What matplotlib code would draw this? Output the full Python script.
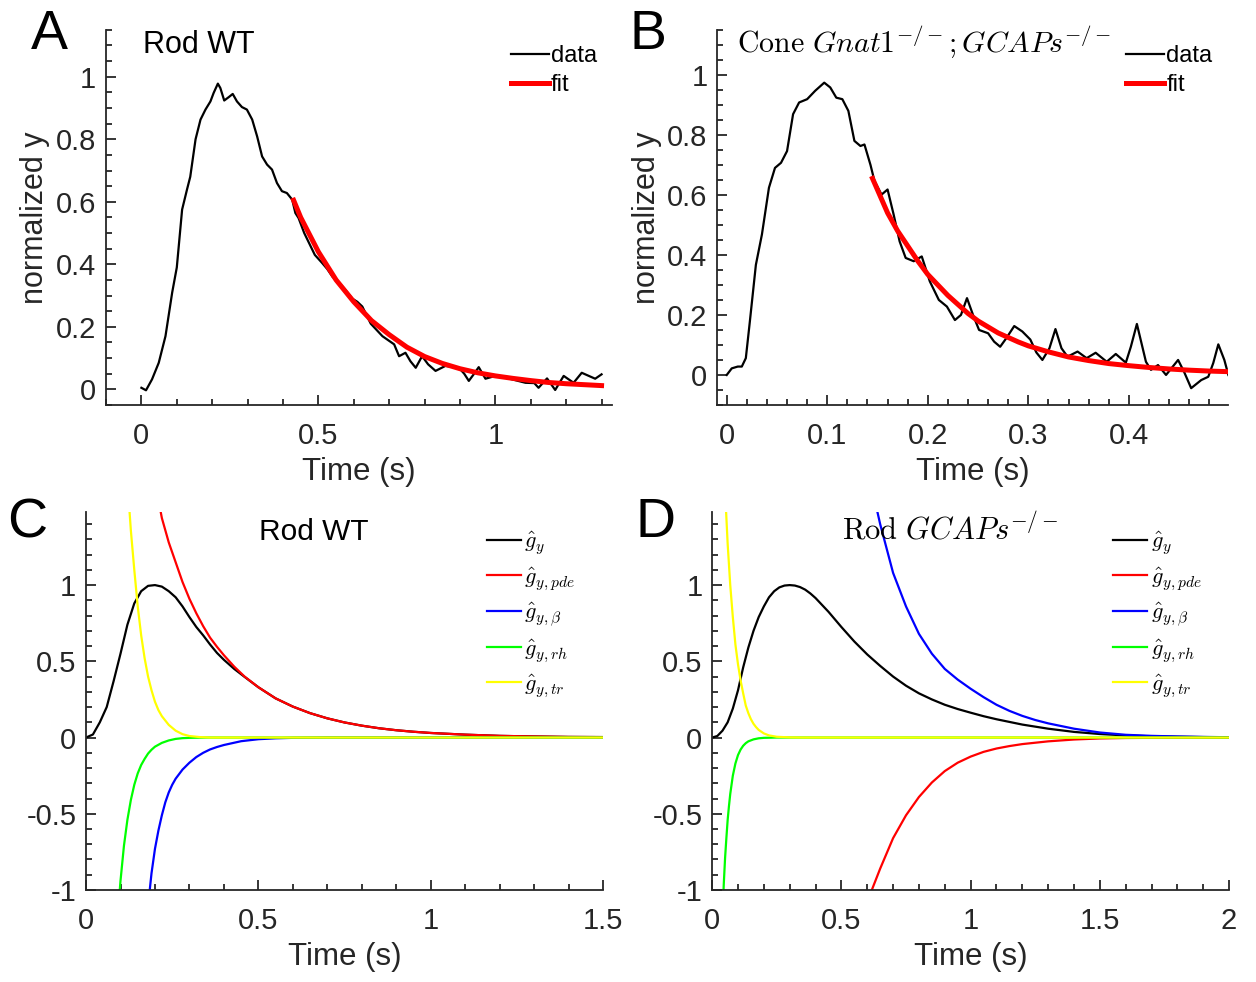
import numpy as np
import matplotlib
matplotlib.use("Agg")
import matplotlib.pyplot as plt
from matplotlib.ticker import MultipleLocator, FuncFormatter

plt.rcParams['font.family'] = ['Liberation Sans', 'DejaVu Sans']
plt.rcParams['mathtext.fontset'] = 'cm'
plt.rcParams['axes.unicode_minus'] = False

AXCOL = '#262626'

# ---- panel A: rod WT response (data + exponential fit) ----
a_t = [0.000, 0.013, 0.030, 0.049, 0.068, 0.087, 0.100, 0.115, 0.129, 0.138, 0.153, 0.167,
       0.181, 0.195, 0.204, 0.216, 0.223, 0.234, 0.247, 0.258, 0.270, 0.284, 0.298, 0.313,
       0.327, 0.341, 0.355, 0.369, 0.383, 0.397, 0.411, 0.426, 0.435, 0.444, 0.460, 0.475,
       0.490, 0.510, 0.525, 0.540, 0.559, 0.575, 0.596, 0.610, 0.624, 0.648, 0.681, 0.714,
       0.728, 0.746, 0.760, 0.775, 0.793, 0.810, 0.831, 0.859, 0.897, 0.912, 0.925, 0.940,
       0.953, 0.972, 1.000, 1.020, 1.047, 1.085, 1.110, 1.122, 1.146, 1.169, 1.193, 1.221,
       1.244, 1.260, 1.282, 1.300]
a_y = [0.005, -0.003, 0.032, 0.085, 0.17, 0.31, 0.39, 0.575, 0.64, 0.68, 0.80, 0.863,
       0.895, 0.921, 0.948, 0.978, 0.964, 0.924, 0.935, 0.945, 0.921, 0.903, 0.895, 0.863,
       0.809, 0.745, 0.719, 0.703, 0.66, 0.634, 0.628, 0.607, 0.564, 0.548, 0.50, 0.465,
       0.43, 0.405, 0.385, 0.36, 0.34, 0.32, 0.29, 0.28, 0.265, 0.21, 0.17, 0.144,
       0.106, 0.117, 0.09, 0.069, 0.106, 0.08, 0.059, 0.075, 0.069, 0.05, 0.027, 0.05,
       0.071, 0.034, 0.043, 0.04, 0.032, 0.021, 0.02, 0.005, 0.035, -0.002, 0.043, 0.021,
       0.053, 0.045, 0.034, 0.048]
a_fit_t = [0.43, 0.45, 0.50, 0.55, 0.60, 0.65, 0.70, 0.75, 0.80, 0.85, 0.90, 0.95,
           1.00, 1.05, 1.10, 1.15, 1.20, 1.25, 1.30]
a_fit_y = [0.605, 0.55, 0.44, 0.35, 0.28, 0.22, 0.175, 0.135, 0.105, 0.083, 0.066, 0.053,
           0.043, 0.035, 0.028, 0.022, 0.018, 0.015, 0.012]

# ---- panel B: cone Gnat1-/-;GCAPs-/- response ----
b_t = [0.000, 0.005, 0.011, 0.015, 0.019, 0.023, 0.029, 0.035, 0.042, 0.048, 0.054, 0.060,
       0.066, 0.072, 0.080, 0.088, 0.097, 0.103, 0.109, 0.115, 0.121, 0.127, 0.133, 0.137,
       0.143, 0.147, 0.154, 0.160, 0.166, 0.172, 0.178, 0.186, 0.194, 0.202, 0.211, 0.219,
       0.227, 0.233, 0.239, 0.245, 0.251, 0.260, 0.266, 0.272, 0.278, 0.286, 0.294, 0.302,
       0.308, 0.314, 0.321, 0.327, 0.333, 0.339, 0.349, 0.358, 0.367, 0.378, 0.387, 0.397,
       0.402, 0.408, 0.417, 0.422, 0.429, 0.437, 0.449, 0.455, 0.462, 0.472, 0.479, 0.484,
       0.489, 0.495, 0.499]
b_y = [0.0, 0.022, 0.028, 0.028, 0.056, 0.178, 0.367, 0.468, 0.624, 0.69, 0.707, 0.746,
       0.869, 0.908, 0.919, 0.947, 0.974, 0.958, 0.924, 0.919, 0.88, 0.78, 0.763, 0.768,
       0.70, 0.646, 0.601, 0.618, 0.535, 0.445, 0.39, 0.379, 0.395, 0.312, 0.25, 0.228,
       0.183, 0.2, 0.256, 0.2, 0.15, 0.139, 0.111, 0.094, 0.122, 0.163, 0.145, 0.118,
       0.075, 0.05, 0.089, 0.153, 0.089, 0.061, 0.078, 0.056, 0.074, 0.044, 0.07, 0.041,
       0.094, 0.17, 0.044, 0.017, 0.033, 0.0, 0.05, 0.01, -0.044, -0.017, -0.006, 0.04,
       0.102, 0.05, 0.0]
b_fit_t = [0.145, 0.16, 0.17, 0.18, 0.19, 0.20, 0.21, 0.22, 0.23, 0.24, 0.25, 0.26, 0.27,
           0.28, 0.29, 0.30, 0.32, 0.34, 0.36, 0.38, 0.40, 0.42, 0.44, 0.46, 0.48, 0.499]
b_fit_y = [0.655, 0.54, 0.48, 0.43, 0.38, 0.335, 0.30, 0.265, 0.235, 0.205, 0.18, 0.16, 0.14,
           0.125, 0.11, 0.097, 0.077, 0.06, 0.048, 0.038, 0.031, 0.025, 0.02, 0.016, 0.013, 0.011]

# ---- panel C: rod WT components ----
c_gy_t = [0.00, 0.02, 0.04, 0.06, 0.08, 0.10, 0.12, 0.14, 0.16, 0.18, 0.20, 0.22, 0.24, 0.26,
          0.28, 0.30, 0.32, 0.34, 0.36, 0.38, 0.40, 0.43, 0.46, 0.50, 0.55, 0.60, 0.65, 0.70,
          0.75, 0.80, 0.85, 0.90, 0.95, 1.00, 1.10, 1.20, 1.30, 1.40, 1.50]
c_gy = [0.00, 0.02, 0.10, 0.20, 0.37, 0.55, 0.74, 0.88, 0.96, 0.995, 1.00, 0.99, 0.96, 0.92,
        0.86, 0.79, 0.725, 0.67, 0.61, 0.555, 0.51, 0.45, 0.398, 0.33, 0.257, 0.203, 0.16, 0.126,
        0.099, 0.078, 0.061, 0.048, 0.038, 0.03, 0.019, 0.011, 0.007, 0.004, 0.003]
c_pde_t = [0.21, 0.22, 0.24, 0.26, 0.28, 0.30, 0.32, 0.34, 0.36, 0.38, 0.40, 0.43, 0.46, 0.50,
           0.55, 0.60, 0.65, 0.70, 0.75, 0.80, 0.85, 0.90, 0.95, 1.00, 1.10, 1.20, 1.30, 1.40, 1.50]
c_pde = [1.56, 1.44, 1.28, 1.15, 1.02, 0.91, 0.815, 0.73, 0.655, 0.595, 0.54, 0.465, 0.40, 0.33,
         0.257, 0.203, 0.16, 0.126, 0.099, 0.078, 0.061, 0.048, 0.038, 0.03, 0.019, 0.011, 0.007,
         0.004, 0.003]
c_beta_t = [0.182, 0.19, 0.20, 0.21, 0.22, 0.23, 0.24, 0.25, 0.26, 0.28, 0.30, 0.32, 0.34, 0.36,
            0.38, 0.40, 0.45, 0.50, 0.55, 0.60, 0.70, 1.50]
c_beta = [-1.06, -0.89, -0.73, -0.61, -0.51, -0.425, -0.36, -0.31, -0.27, -0.21, -0.165, -0.128,
          -0.10, -0.078, -0.062, -0.049, -0.024, -0.011, -0.005, -0.002, 0.0, 0.0]
c_rh_t = [0.095, 0.10, 0.11, 0.12, 0.13, 0.14, 0.15, 0.16, 0.17, 0.18, 0.19, 0.20, 0.22, 0.24,
          0.26, 0.28, 0.30, 0.35, 1.50]
c_rh = [-1.08, -0.94, -0.71, -0.54, -0.41, -0.31, -0.235, -0.18, -0.14, -0.105, -0.08, -0.06,
        -0.035, -0.019, -0.009, -0.004, -0.002, 0.0, 0.0]
c_tr_t = [0.122, 0.13, 0.14, 0.15, 0.16, 0.17, 0.18, 0.19, 0.20, 0.21, 0.22, 0.24, 0.26, 0.28,
          0.30, 0.33, 0.36, 1.50]
c_tr = [1.62, 1.36, 1.10, 0.86, 0.67, 0.52, 0.40, 0.31, 0.235, 0.18, 0.14, 0.083, 0.045, 0.022,
        0.01, 0.003, 0.0, 0.0]

# ---- panel D: rod GCAPs-/- components ----
d_gy_t = [0.00, 0.02, 0.04, 0.06, 0.08, 0.10, 0.12, 0.14, 0.16, 0.18, 0.20, 0.22, 0.24, 0.26,
          0.28, 0.30, 0.32, 0.34, 0.36, 0.38, 0.40, 0.45, 0.50, 0.55, 0.60, 0.65, 0.70, 0.75,
          0.80, 0.85, 0.90, 0.95, 1.00, 1.05, 1.10, 1.20, 1.30, 1.40, 1.50, 1.60, 1.70, 1.80,
          1.90, 2.00]
d_gy = [0.00, 0.01, 0.045, 0.10, 0.19, 0.31, 0.46, 0.59, 0.70, 0.79, 0.86, 0.92, 0.96, 0.985,
        0.997, 1.00, 0.997, 0.987, 0.97, 0.945, 0.915, 0.825, 0.725, 0.63, 0.545, 0.47, 0.40,
        0.34, 0.29, 0.25, 0.215, 0.187, 0.163, 0.14, 0.12, 0.085, 0.058, 0.037, 0.023, 0.014,
        0.008, 0.005, 0.003, 0.002]
d_pde_t = [0.61, 0.62, 0.65, 0.70, 0.75, 0.80, 0.85, 0.90, 0.95, 1.00, 1.05, 1.10, 1.15, 1.20,
           1.30, 1.40, 1.50, 1.60, 1.80, 2.00]
d_pde = [-1.04, -0.99, -0.86, -0.66, -0.51, -0.39, -0.295, -0.22, -0.165, -0.125, -0.094,
         -0.072, -0.056, -0.043, -0.025, -0.013, -0.006, -0.003, -0.001, 0.0]
d_beta_t = [0.63, 0.65, 0.70, 0.75, 0.80, 0.85, 0.90, 0.95, 1.00, 1.05, 1.10, 1.15, 1.20, 1.25,
            1.30, 1.40, 1.50, 1.60, 1.70, 1.80, 1.90, 2.00]
d_beta = [1.55, 1.40, 1.08, 0.86, 0.68, 0.55, 0.45, 0.38, 0.32, 0.265, 0.215, 0.175, 0.142,
          0.115, 0.093, 0.058, 0.033, 0.018, 0.011, 0.007, 0.004, 0.002]
d_rh_t = [0.042, 0.045, 0.05, 0.055, 0.06, 0.065, 0.07, 0.08, 0.09, 0.10, 0.11, 0.12, 0.13,
          0.14, 0.16, 0.18, 0.20, 0.25, 2.00]
d_rh = [-1.08, -0.96, -0.79, -0.66, -0.54, -0.45, -0.37, -0.25, -0.17, -0.115, -0.079, -0.054,
        -0.037, -0.025, -0.012, -0.005, -0.002, 0.0, 0.0]
d_tr_t = [0.05, 0.06, 0.07, 0.08, 0.09, 0.10, 0.11, 0.12, 0.13, 0.14, 0.15, 0.16, 0.17, 0.18,
          0.20, 0.22, 0.25, 0.30, 0.35, 2.00]
d_tr = [1.62, 1.27, 1.00, 0.79, 0.61, 0.48, 0.375, 0.29, 0.21, 0.16, 0.12, 0.09, 0.068, 0.05,
        0.027, 0.014, 0.005, 0.001, 0.0, 0.0]

comp_labels = [r'$\hat{g}_y$', r'$\hat{g}_{y,pde}$', r'$\hat{g}_{y,\beta}$',
               r'$\hat{g}_{y,rh}$', r'$\hat{g}_{y,tr}$']
comp_colors = ['black', 'red', 'blue', '#00ff00', '#ffff00']

fmt = FuncFormatter(lambda v, p: '%g' % round(v, 6))


def style_axes(ax, xmaj, xmin, ymaj, ymin):
    for s in ['top', 'right']:
        ax.spines[s].set_visible(False)
    for s in ['left', 'bottom']:
        ax.spines[s].set_color(AXCOL)
        ax.spines[s].set_linewidth(1.3)
    ax.xaxis.set_major_locator(MultipleLocator(xmaj))
    ax.xaxis.set_minor_locator(MultipleLocator(xmin))
    ax.yaxis.set_major_locator(MultipleLocator(ymaj))
    ax.yaxis.set_minor_locator(MultipleLocator(ymin))
    ax.xaxis.set_major_formatter(fmt)
    ax.yaxis.set_major_formatter(fmt)
    ax.tick_params(which='both', direction='in', color=AXCOL, width=1.3,
                   labelcolor=AXCOL, labelsize=21)
    ax.tick_params(which='major', length=7)
    ax.tick_params(which='minor', length=4)
    ax.tick_params(axis='x', pad=12)
    ax.tick_params(axis='y', pad=7)


def small_legend(ax, y):
    ax.legend(loc='upper left', bbox_to_anchor=(0.80, y), frameon=False, fontsize=17,
              handlelength=1.6, handletextpad=0.1, labelspacing=0.3,
              borderaxespad=0, borderpad=0)


def comp_legend(ax):
    ax.legend(loc='upper left', bbox_to_anchor=(0.775, 0.953), frameon=False, fontsize=16,
              handlelength=1.55, handletextpad=0.15, labelspacing=0.38,
              borderaxespad=0, borderpad=0)


fig = plt.figure(figsize=(12.56, 9.82), dpi=100)
axA = fig.add_axes([0.0844, 0.5876, 0.403, 0.382])
axB = fig.add_axes([0.571, 0.5876, 0.407, 0.382])
axC = fig.add_axes([0.0685, 0.0937, 0.4116, 0.385])
axD = fig.add_axes([0.567, 0.0937, 0.4116, 0.385])

# A
axA.plot(a_t, a_y, color='black', lw=1.6, label='data')
axA.plot(a_fit_t, a_fit_y, color='red', lw=3.6, label='fit')
axA.set_xlim(-0.1, 1.33)
axA.set_ylim(-0.05, 1.15)
style_axes(axA, 0.5, 0.1, 0.2, 0.05)
axA.set_xlabel('Time (s)', fontsize=22.5, color=AXCOL, labelpad=5)
axA.set_ylabel('normalized y', fontsize=22, color=AXCOL, labelpad=4)
axA.text(0.073, 0.96, 'Rod WT', transform=axA.transAxes, fontsize=22, va='center', ha='left')
small_legend(axA, 0.96)

# B
axB.plot(b_t, b_y, color='black', lw=1.6, label='data')
axB.plot(b_fit_t, b_fit_y, color='red', lw=3.6, label='fit')
axB.set_xlim(-0.0095, 0.499)
axB.set_ylim(-0.1, 1.15)
style_axes(axB, 0.1, 0.02, 0.2, 0.05)
axB.set_xlabel('Time (s)', fontsize=22.5, color=AXCOL, labelpad=5)
axB.set_ylabel('normalized y', fontsize=22, color=AXCOL, labelpad=4)
axB.text(0.039, 0.968, r'$\mathrm{Cone}\ Gnat\mathit{1}^{-/-};GCAPs^{-/-}$',
         transform=axB.transAxes, fontsize=21.5, va='center', ha='left')
small_legend(axB, 0.96)

# C
for (tt, yy), col, lab in zip([(c_gy_t, c_gy), (c_pde_t, c_pde), (c_beta_t, c_beta),
                               (c_rh_t, c_rh), (c_tr_t, c_tr)], comp_colors, comp_labels):
    axC.plot(tt, yy, color=col, lw=1.6, label=lab)
axC.set_xlim(0, 1.5)
axC.set_ylim(-1, 1.48)
style_axes(axC, 0.5, 0.1, 0.5, 0.1)
axC.set_xlabel('Time (s)', fontsize=22.5, color=AXCOL, labelpad=5)
axC.text(0.441, 0.947, 'Rod WT', transform=axC.transAxes, fontsize=21.5, va='center', ha='center')
comp_legend(axC)

# D
for (tt, yy), col, lab in zip([(d_gy_t, d_gy), (d_pde_t, d_pde), (d_beta_t, d_beta),
                               (d_rh_t, d_rh), (d_tr_t, d_tr)], comp_colors, comp_labels):
    axD.plot(tt, yy, color=col, lw=1.6, label=lab)
axD.set_xlim(0, 2)
axD.set_ylim(-1, 1.48)
style_axes(axD, 0.5, 0.1, 0.5, 0.1)
axD.set_xlabel('Time (s)', fontsize=22.5, color=AXCOL, labelpad=5)
axD.text(0.251, 0.952, r'$\mathrm{Rod}\ GCAPs^{-/-}$', transform=axD.transAxes,
         fontsize=22, va='center', ha='left')
comp_legend(axD)

# panel letters
for lab, x, y in [('A', 0.039, 0.964), ('B', 0.516, 0.964), ('C', 0.022, 0.467), ('D', 0.522, 0.467)]:
    fig.text(x, y, lab, fontsize=40, ha='center', va='center', color='black')

fig.savefig('out.png', dpi=100)
